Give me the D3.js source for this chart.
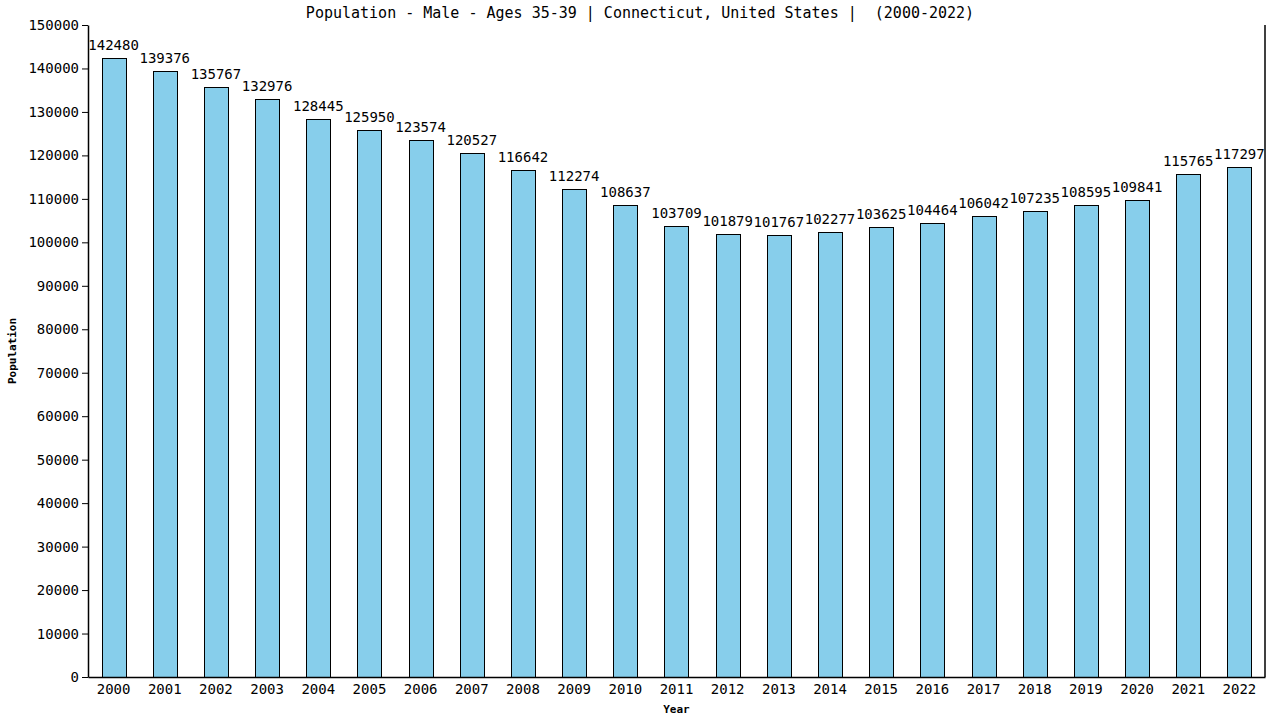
<!DOCTYPE html>
<html>
<head>
<meta charset="utf-8">
<script src="https://cdn.jsdelivr.net/npm/d3@7"></script>
<style>
body { margin: 0; background: #fff; }
text { font-family: "DejaVu Sans Mono", monospace; }
</style>
</head>
<body>
<script>
// data
var years = ["2000","2001","2002","2003","2004","2005","2006","2007","2008","2009","2010","2011",
    "2012","2013","2014","2015","2016","2017","2018","2019","2020","2021","2022"];
var population = [142480,139376,135767,132976,128445,125950,123574,120527,116642,112274,108637,103709,
    101879,101767,102277,103625,104464,106042,107235,108595,109841,115765,117297];
var yTicks = [0,10000,20000,30000,40000,50000,60000,70000,80000,90000,100000,110000,120000,130000,140000,150000];

var W = 1280, H = 720;
var pLeft = 88, pRight = 1265, pTop = 25, pBottom = 677;

var svg = d3.select("body").append("svg")
    .attr("width", W)
    .attr("height", H);

var x = d3.scaleBand()
    .domain(years)
    .range([pLeft, pRight])
    .paddingInner(0.53)
    .paddingOuter(0.265);

var y = d3.scaleLinear()
    .domain([0, 150000])
    .range([pBottom, pTop]);

// bars
svg.append("g").selectAll("rect")
    .data(population)
    .enter().append("rect")
    .attr("x", (d, i) => Math.round(x(years[i])) + 0.5)
    .attr("y", d => Math.round(y(d)) + 0.5)
    .attr("width", Math.round(x.bandwidth()))
    .attr("height", d => pBottom - Math.round(y(d)))
    .attr("fill", "#87ceeb")
    .attr("stroke", "black")
    .attr("stroke-width", 1);

// value labels
svg.append("g").selectAll("text")
    .data(population)
    .enter().append("text")
    .attr("x", (d, i) => x(years[i]) + x.bandwidth() / 2)
    .attr("y", d => y(d) - 8)
    .attr("text-anchor", "middle")
    .attr("font-size", 14)
    .attr("fill", "black")
    .text(d => d);

// y axis
var yAxis = svg.append("g")
    .attr("transform", "translate(" + pLeft + ",0)")
    .call(d3.axisLeft(y).tickValues(yTicks).tickSize(6).tickSizeOuter(0).tickFormat(d3.format("d")));
yAxis.select(".domain").attr("stroke", "black").attr("stroke-width", 1.5);
yAxis.selectAll("text").attr("font-size", 14)
    .attr("font-family", "DejaVu Sans, sans-serif").attr("fill", "black");

// x axis
var xAxis = svg.append("g")
    .attr("transform", "translate(0," + pBottom + ")")
    .call(d3.axisBottom(x).tickSize(0).tickSizeOuter(0).tickPadding(7));
xAxis.select(".domain").attr("stroke", "black").attr("stroke-width", 1.5);
xAxis.selectAll("text").attr("font-size", 14)
    .attr("font-family", "DejaVu Sans, sans-serif").attr("fill", "black");

// right border
svg.append("line")
    .attr("x1", pRight).attr("x2", pRight)
    .attr("y1", pTop).attr("y2", pBottom)
    .attr("stroke", "black")
    .attr("stroke-width", 1.5);

// title
svg.append("text")
    .attr("x", W / 2)
    .attr("y", 18)
    .attr("text-anchor", "middle")
    .attr("font-size", 15)
    .style("white-space", "pre")
    .text("Population - Male - Ages 35-39 | Connecticut, United States |  (2000-2022)");

// axis titles
svg.append("text")
    .attr("x", (pLeft + pRight) / 2)
    .attr("y", 713)
    .attr("text-anchor", "middle")
    .attr("font-size", 11)
    .attr("font-weight", "bold")
    .text("Year");

svg.append("text")
    .attr("transform", "translate(16," + (pTop + pBottom) / 2 + ") rotate(-90)")
    .attr("text-anchor", "middle")
    .attr("font-size", 11)
    .attr("font-weight", "bold")
    .text("Population");
</script>
</body>
</html>
